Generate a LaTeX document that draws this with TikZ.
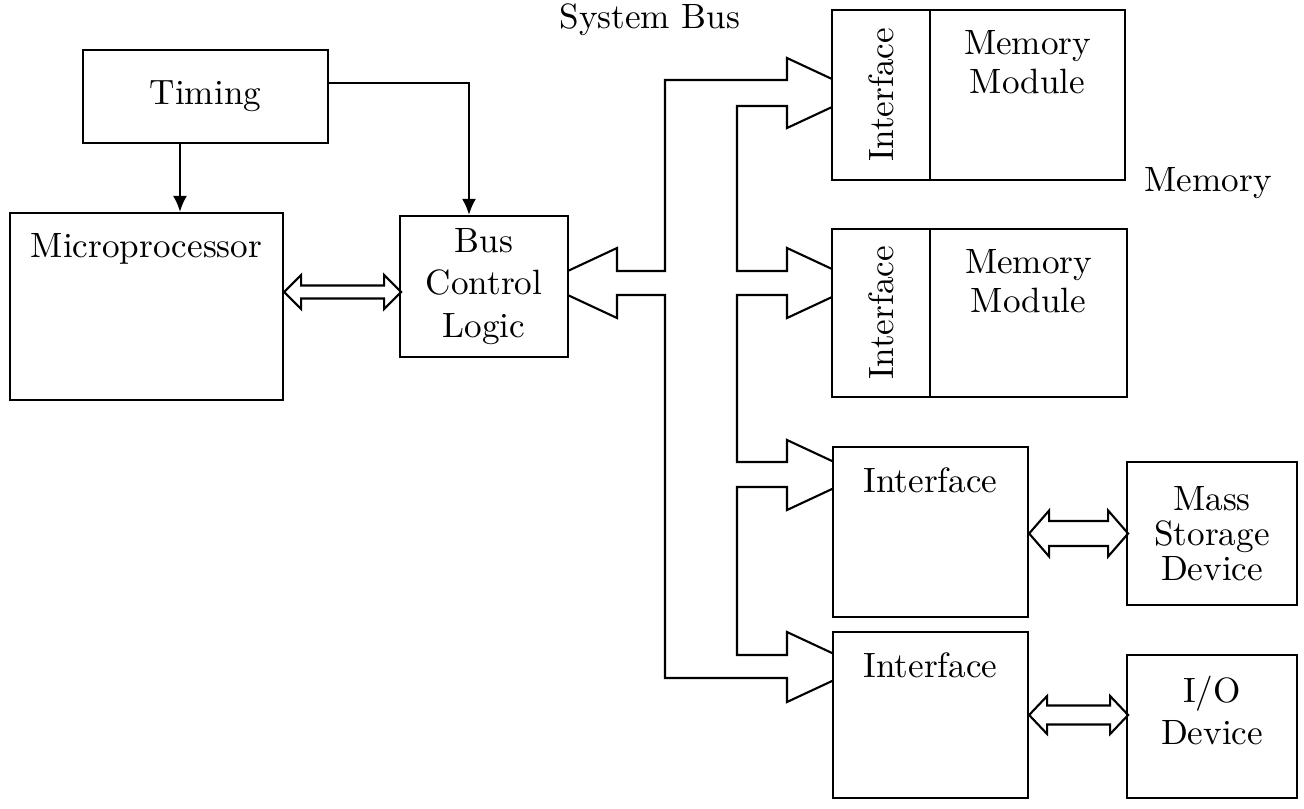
\documentclass[tikz,border=0pt]{standalone}
\usepackage{graphicx}
\usetikzlibrary{arrows.meta,positioning,calc,backgrounds}

\begin{document}
\begin{tikzpicture}[x=0.01cm,y=-0.01cm]
  \tikzstyle{blk}=[rectangle,draw=black,semithick,fill=white,inner sep=0pt,align=center,font=\fontsize{10}{12}\selectfont]
  \tikzstyle{toptxt}=[anchor=north,inner sep=0pt,yshift=-0.21cm,align=center,font=\fontsize{10}{11}\selectfont]
  \tikzstyle{bus}=[draw=black,semithick,line join=miter]
  \tikzstyle{ctl}=[draw=black,semithick,-{Latex[length=1.6mm,width=1.4mm]}]

  \useasboundingbox (0,0) rectangle (1304,808);

  % processor side
  \node[blk,minimum width=2.45cm,minimum height=0.93cm] (timing) at (205.5,96.5) {Timing};
  \node[blk,minimum width=2.73cm,minimum height=1.87cm,label={[toptxt]north:Microprocessor}] (mp) at (146.5,306.5) {};
  \node[blk,minimum width=1.68cm,minimum height=1.41cm] (bcl) at (484,286.5) {Bus\\Control\\Logic};

  % memory
  \node[blk,minimum width=0.98cm,minimum height=1.70cm] (if1) at (881,95) {\rotatebox{90}{Interface}};
  \node[blk,right=-0.6pt of if1,minimum width=1.95cm,minimum height=1.70cm,label={[toptxt]north:Memory\\Module}] (mm1) {};
  \node[blk,minimum width=0.98cm,minimum height=1.68cm] (if2) at (881,313) {\rotatebox{90}{Interface}};
  \node[blk,right=-0.6pt of if2,minimum width=1.97cm,minimum height=1.68cm,label={[toptxt]north:Memory\\Module}] (mm2) {};
  \node (memlbl) at (1208,183) {Memory};

  % peripherals
  \node[blk,minimum width=1.95cm,minimum height=1.70cm,label={[toptxt]north:Interface}] (if3) at (930.5,532) {};
  \node[blk,minimum width=1.95cm,minimum height=1.66cm,label={[toptxt]north:Interface}] (if4) at (930.5,715) {};
  \node[blk,font=\fontsize{10}{10}\selectfont,minimum width=1.70cm,minimum height=1.43cm] (msd) at (1212,533.5) {Mass\\Storage\\Device};
  \node[blk,minimum width=1.70cm,minimum height=1.43cm,label={[toptxt,font=\fontsize{10}{12}\selectfont]north:I/O\\Device}] (io) at (1212,726.5) {};

  \node (sysbus) at (650,20) {System Bus};

  % timing lines
  \draw[ctl] ([xshift=-0.255cm]timing.south) -- ([xshift=-0.255cm]timing.south |- mp.north);
  \draw[ctl] ([yshift=0.135cm]timing.east) -| ([xshift=-0.15cm]bcl.north);

  % wide two-way arrows
  \draw[bus] ($(mp.east)+(0,-14.5)$) -- ++(17,-17) -- ++(0,10.5) -- ++(83,0) -- ++(0,-10.5) -- ++(17,17)
    -- ++(-17,17) -- ++(0,-10.5) -- ++(-83,0) -- ++(0,10.5) -- cycle;
  \draw[bus] (if3.east |- msd.west) -- ++(20,-23) -- ++(0,10.5) -- ++(59,0) -- ++(0,-10.5) -- ++(20,23)
    -- ++(-20,23) -- ++(0,-10.5) -- ++(-59,0) -- ++(0,10.5) -- cycle;
  \draw[bus] (if4.east) -- ++(18,-19) -- ++(0,9.5) -- ++(63,0) -- ++(0,-9.5) -- ++(18,19)
    -- ++(-18,19) -- ++(0,-9.5) -- ++(-63,0) -- ++(0,9.5) -- cycle;

  % system bus (tips hidden under the boxes)
  \begin{scope}[on background layer]
    \draw[bus] (617,271) -- (617,248) -- (542,283) -- (617,318) -- (617,295) -- (665,295)
      -- (665,678) -- (787,678) -- (787,702) -- (862,667) -- (787,632) -- (787,655) -- (737,655)
      -- (737,487) -- (787,487) -- (787,510) -- (862,475) -- (787,440) -- (787,462) -- (737,462)
      -- (737,295) -- (787,295) -- (787,318) -- (862,283) -- (787,248) -- (787,271) -- (737,271)
      -- (737,106) -- (787,106) -- (787,128) -- (862,93) -- (787,58) -- (787,80) -- (665,80)
      -- (665,271) -- cycle;
  \end{scope}
\end{tikzpicture}
\end{document}
